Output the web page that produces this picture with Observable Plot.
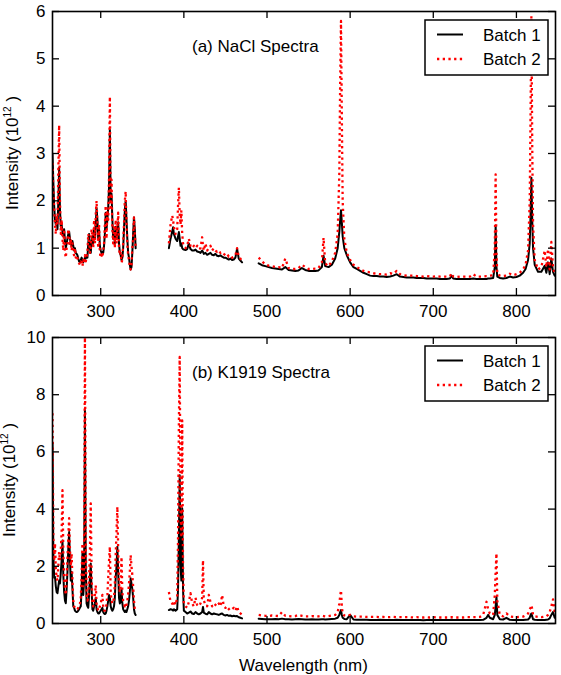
<!DOCTYPE html>
<html>
<head>
<meta charset="utf-8">
<script src="https://cdn.jsdelivr.net/npm/d3@7"></script>
<script src="https://cdn.jsdelivr.net/npm/@observablehq/plot@0.6"></script>
<style>
  body { margin: 0; background: #fff; }
  #fig { position: relative; width: 561px; height: 675px; overflow: hidden; background: #fff; }
  #fig > svg { position: absolute; left: 0; }
</style>
</head>
<body>
<div id="fig"></div>
<script>
// Wavelength grid (nm); 360 and 480 are empty slots that break the line across the detector gaps.
const wavelength = [
  242,243,244,245,246,247,248,249,250,251,
  252,253,254,255,256,257,258,259,260,261,
  262,263,264,265,266,267,268,269,270,271,
  272,273,274,275,276,277,278,279,280,281,
  282,283,284,285,286,287,288,289,290,291,
  292,293,294,295,296,297,298,299,300,301,
  302,303,304,305,306,307,308,309,310,311,
  312,313,314,315,316,317,318,319,320,321,
  322,323,324,325,326,327,328,329,330,331,
  332,333,334,335,336,337,338,339,340,341,
  342,
  360,
  382,384,386,387,388,390,392,393,394,395,
  396,397,398,399,400,402,404,406,408,410,
  412,414,416,418,420,422,423,424,426,428,
  430,432,434,436,438,440,442,444,446,448,
  450,452,454,456,458,460,462,464,466,468,
  470,
  480,
  490,494,498,502,506,510,514,518,522,526,
  530,534,538,542,546,550,554,558,562,566,
  568,570,574,578,582,585,587,588,589,590,
  591,593,596,600,604,608,612,616,620,624,
  628,632,636,640,644,648,652,656,660,664,
  668,672,676,680,684,688,692,696,700,704,
  708,712,716,720,722,724,728,732,736,740,
  744,748,752,756,760,764,766,768,772,774,
  775,776,777,780,784,788,792,796,800,804,
  808,811,814,816,817,818,819,820,822,826,
  830,834,836,838,840,842,844,846
];

// NaCl spectra, intensity in units of 10^12
const naclBatch1 = [
  3.0,2.4,1.9,1.6,1.5,1.6,1.4,2.0,2.7,1.8,
  1.45,1.5,1.35,1.25,1.4,1.15,1.0,1.1,1.2,1.3,
  1.35,1.2,1.1,1.05,1.15,1.05,0.95,1.0,0.9,0.88,
  0.85,0.78,0.72,0.7,0.75,0.8,0.74,0.7,0.75,0.8,
  0.78,0.85,0.8,1.1,1.3,1.0,0.9,1.15,1.25,1.1,
  1.4,1.2,1.5,1.85,1.6,1.2,1.4,1.05,0.95,0.9,
  0.92,0.9,1.05,1.3,1.75,1.4,1.6,1.85,2.3,3.5,
  2.0,2.15,1.6,1.2,1.35,1.1,1.45,1.2,1.3,1.55,
  1.1,0.9,0.85,0.75,0.8,1.0,1.4,1.8,2.0,1.6,
  1.2,0.9,0.8,0.65,0.55,0.6,0.9,1.3,1.65,1.4,
  1.0,
  null,
  1.0,1.2,1.35,1.44,1.3,1.2,1.15,1.25,1.34,1.2,
  1.05,1.1,1.0,0.98,0.97,0.96,0.98,1.1,0.98,0.95,
  0.95,0.97,0.93,0.92,0.9,0.95,0.92,0.88,0.9,0.86,
  0.88,0.9,0.86,0.85,0.88,0.84,0.83,0.85,0.82,0.8,
  0.8,0.78,0.76,0.78,0.75,0.76,0.8,0.99,0.78,0.74,
  0.7,
  null,
  0.68,0.64,0.62,0.6,0.58,0.57,0.56,0.55,0.6,0.54,
  0.53,0.52,0.53,0.58,0.54,0.52,0.52,0.52,0.53,0.6,
  0.84,0.62,0.6,0.65,0.78,1.0,1.35,1.6,1.8,1.55,
  1.25,1.0,0.85,0.7,0.6,0.56,0.52,0.48,0.45,0.42,
  0.41,0.41,0.4,0.4,0.39,0.4,0.42,0.45,0.4,0.39,
  0.38,0.38,0.38,0.37,0.37,0.37,0.36,0.36,0.36,0.36,
  0.35,0.35,0.35,0.36,0.42,0.36,0.35,0.35,0.35,0.35,
  0.35,0.36,0.35,0.35,0.35,0.35,0.36,0.36,0.37,0.6,
  1.48,0.6,0.4,0.37,0.36,0.37,0.4,0.38,0.39,0.42,
  0.48,0.56,0.75,1.1,1.7,2.49,1.6,1.0,0.65,0.5,
  0.5,0.63,0.48,0.7,0.45,0.78,0.5,0.42
];
const naclBatch2 = [
  2.8,2.2,1.8,1.5,1.3,1.7,1.5,2.6,3.6,2.0,
  1.3,1.6,1.2,0.95,1.4,0.9,0.8,1.0,1.1,1.4,
  1.3,1.05,1.2,0.95,1.1,0.9,0.85,1.0,0.8,0.85,
  0.8,0.7,0.68,0.65,0.72,0.7,0.62,0.75,0.68,0.85,
  0.72,0.8,0.9,1.3,1.2,0.9,1.0,1.4,1.2,1.0,
  1.6,1.1,1.7,2.0,1.5,1.0,1.5,0.9,0.8,0.85,
  0.8,0.95,1.1,1.5,1.9,1.2,1.8,1.6,2.5,4.2,
  1.8,2.45,1.4,1.1,1.5,1.0,1.6,1.1,1.4,1.75,
  1.0,0.85,0.9,0.7,0.75,1.1,1.5,2.0,2.2,1.5,
  1.1,0.85,0.75,0.6,0.55,0.65,1.0,1.2,1.65,1.3,
  1.0,
  null,
  1.1,1.5,1.69,1.6,1.45,1.3,1.4,1.9,2.28,1.7,
  1.5,1.8,1.3,1.1,1.05,1.0,1.05,1.2,1.05,1.0,
  1.05,1.0,1.05,0.98,1.0,1.23,1.05,0.95,1.1,0.95,
  1.0,1.05,0.95,1.0,0.95,0.92,0.95,0.9,0.92,0.88,
  0.85,0.88,0.82,0.84,0.8,0.82,0.85,1.0,0.82,0.78,
  0.72,
  null,
  0.8,0.72,0.66,0.63,0.62,0.6,0.6,0.58,0.78,0.58,
  0.56,0.56,0.58,0.65,0.6,0.56,0.56,0.57,0.58,0.7,
  1.22,0.68,0.62,0.72,0.9,1.3,2.6,4.5,5.8,3.8,
  2.0,1.2,0.9,0.75,0.65,0.6,0.56,0.52,0.5,0.49,
  0.47,0.46,0.45,0.45,0.44,0.47,0.46,0.52,0.45,0.43,
  0.42,0.42,0.42,0.41,0.41,0.4,0.41,0.4,0.4,0.41,
  0.4,0.4,0.4,0.41,0.47,0.4,0.39,0.4,0.4,0.4,
  0.4,0.45,0.4,0.4,0.4,0.41,0.41,0.42,0.43,1.0,
  2.56,0.9,0.45,0.42,0.41,0.42,0.46,0.43,0.45,0.48,
  0.55,0.65,0.95,2.0,3.8,5.9,3.2,1.5,0.75,0.55,
  0.6,0.95,0.6,0.98,0.55,1.13,0.6,0.45
];

// K1919 spectra
const k1919Batch1 = [
  6.3,2.5,1.6,1.63,1.3,1.1,1.06,1.3,1.5,1.4,
  1.8,2.2,2.9,1.7,1.1,0.8,0.71,1.2,1.8,2.6,
  3.2,2.2,1.5,1.8,1.2,0.6,0.55,0.45,0.42,0.4,
  0.41,0.45,0.5,0.55,0.6,1.2,2.45,1.0,1.5,7.46,
  2.0,0.7,0.6,0.55,1.0,1.6,2.1,1.2,0.5,0.45,
  0.6,0.7,0.9,0.5,0.4,0.35,0.35,0.4,0.45,0.5,
  0.55,0.4,0.35,0.33,0.35,0.45,0.6,0.8,1.0,0.93,
  0.6,0.5,0.45,0.5,0.6,0.9,1.6,2.0,2.68,1.8,
  0.9,0.7,0.8,1.2,0.7,0.5,0.45,0.4,0.45,0.4,
  0.5,0.6,0.8,1.1,1.58,1.4,1.2,0.9,0.5,0.35,
  0.3,
  null,
  0.47,0.5,0.48,0.45,0.5,0.45,0.5,1.2,3.0,5.18,
  2.0,1.5,4.03,1.2,0.45,0.4,0.35,0.38,0.42,0.35,
  0.33,0.4,0.35,0.32,0.35,0.4,0.58,0.38,0.34,0.32,
  0.4,0.35,0.32,0.35,0.33,0.32,0.3,0.33,0.35,0.3,
  0.28,0.3,0.27,0.28,0.25,0.27,0.25,0.26,0.22,0.2,
  0.18,
  null,
  0.17,0.16,0.15,0.15,0.15,0.16,0.15,0.17,0.15,0.15,
  0.14,0.15,0.16,0.15,0.14,0.14,0.15,0.14,0.14,0.15,
  0.15,0.14,0.15,0.16,0.17,0.2,0.3,0.4,0.47,0.3,
  0.2,0.16,0.15,0.3,0.14,0.13,0.13,0.13,0.13,0.12,
  0.12,0.12,0.13,0.12,0.12,0.12,0.12,0.13,0.12,0.12,
  0.12,0.12,0.12,0.12,0.12,0.11,0.12,0.12,0.12,0.12,
  0.12,0.12,0.12,0.12,0.13,0.12,0.12,0.12,0.12,0.12,
  0.12,0.12,0.12,0.12,0.13,0.2,0.3,0.2,0.15,0.3,
  0.6,0.93,0.3,0.15,0.14,0.2,0.13,0.12,0.12,0.12,
  0.12,0.13,0.14,0.2,0.3,0.35,0.25,0.15,0.13,0.12,
  0.12,0.12,0.13,0.14,0.18,0.3,0.4,0.2
];
const k1919Batch2 = [
  7.35,3.0,2.2,2.8,1.9,1.6,1.5,2.0,2.5,2.2,
  2.6,3.2,4.66,2.5,1.6,1.2,1.0,1.6,2.3,3.0,
  3.68,2.6,2.0,2.45,1.5,0.8,0.6,0.55,0.5,0.5,
  0.5,0.55,0.6,0.7,0.9,1.6,2.8,1.3,2.0,10.0,
  2.8,1.0,0.8,0.9,1.6,2.5,4.2,1.8,0.7,0.6,
  0.9,1.0,1.34,0.7,0.55,0.45,0.5,0.6,0.7,0.85,
  1.0,0.6,0.45,0.45,0.5,0.7,1.0,1.6,2.2,2.68,
  1.1,0.8,0.7,0.75,0.9,1.4,2.4,3.2,4.08,2.6,
  1.4,1.1,1.3,2.33,1.1,0.8,0.7,0.6,0.7,0.65,
  0.8,1.0,1.4,1.8,2.39,2.0,1.7,1.3,0.8,0.5,
  0.4,
  null,
  1.1,0.75,0.7,0.6,0.8,0.65,0.9,3.0,7.0,9.32,
  4.0,3.0,7.1,2.0,0.7,0.6,0.55,0.75,1.06,0.7,
  0.6,0.9,0.65,0.6,0.7,0.9,2.21,0.8,0.65,0.6,
  1.0,0.75,0.6,0.7,0.65,0.6,0.7,0.6,1.0,0.6,
  0.55,0.6,0.5,0.55,0.5,0.55,0.45,0.6,0.4,0.35,
  0.3,
  null,
  0.3,0.28,0.27,0.26,0.28,0.27,0.26,0.4,0.27,0.26,
  0.25,0.26,0.3,0.27,0.25,0.25,0.26,0.25,0.25,0.27,
  0.26,0.25,0.26,0.28,0.3,0.4,0.7,0.95,1.16,0.6,
  0.35,0.28,0.26,0.3,0.25,0.24,0.24,0.24,0.23,0.23,
  0.23,0.23,0.22,0.23,0.22,0.22,0.23,0.22,0.22,0.22,
  0.22,0.22,0.21,0.22,0.21,0.21,0.22,0.21,0.22,0.21,
  0.21,0.21,0.21,0.21,0.22,0.21,0.21,0.21,0.21,0.22,
  0.22,0.22,0.22,0.23,0.3,0.76,0.5,0.35,0.3,1.0,
  1.8,2.45,0.8,0.3,0.25,0.35,0.25,0.23,0.22,0.23,
  0.24,0.28,0.35,0.5,0.55,0.64,0.5,0.3,0.25,0.23,
  0.22,0.24,0.25,0.3,0.4,0.6,0.84,0.4
];

const xTicks = [300, 400, 500, 600, 700, 800];
const naclTicks = [0, 1, 2, 3, 4, 5, 6];
const k1919Ticks = [0, 2, 4, 6, 8, 10];
const seriesNames = ["Batch 1", "Batch 2"];
const panelTitles = ["(a) NaCl Spectra", "(b) K1919 Spectra"];
const xLabel = "Wavelength (nm)";
const yLabel = ["Intensity (10", "12", " )"];

const FONT = '"Liberation Sans", Arial, Helvetica, sans-serif';
const W = 561, ML = 52, MR = 6, TICK = 7;
const batch1Style = {stroke: "#000", strokeWidth: 2};
const batch2Style = {stroke: "#ff0000", strokeWidth: 2.3, strokeDasharray: "2.3,3.4", strokeLinecap: "butt"};

const panels = [
  {b1: naclBatch1, b2: naclBatch2, yDomain: [0, 6], yTicks: naclTicks, top: 0, height: 322, marginTop: 11, marginBottom: 27, labelX: 17.5},
  {b1: k1919Batch1, b2: k1919Batch2, yDomain: [0, 10], yTicks: k1919Ticks, top: 322, height: 353, marginTop: 15, marginBottom: 52, labelX: 15}
];

const fig = document.getElementById("fig");

panels.forEach((p) => {
  const rows = wavelength.map((w, i) => ({w, b1: p.b1[i], b2: p.b2[i]}));
  const plotH = p.height - p.marginTop - p.marginBottom;
  const plotW = W - ML - MR;
  const chart = Plot.plot({
    width: W,
    height: p.height,
    marginTop: p.marginTop,
    marginBottom: p.marginBottom,
    marginLeft: ML,
    marginRight: MR,
    style: {fontFamily: FONT, fontSize: "17px", color: "#000", background: "transparent"},
    x: {domain: [242, 847]},
    y: {domain: p.yDomain},
    marks: [
      Plot.line(rows, {x: "w", y: "b1", ...batch1Style, clip: true}),
      Plot.line(rows, {x: "w", y: "b2", ...batch2Style, clip: true}),
      // inward ticks on all four sides
      Plot.tickX(xTicks, {x: (d) => d, insetTop: plotH - TICK, strokeWidth: 1.3}),
      Plot.tickX(xTicks, {x: (d) => d, insetBottom: plotH - TICK, strokeWidth: 1.3}),
      Plot.tickY(p.yTicks, {y: (d) => d, insetRight: plotW - TICK, strokeWidth: 1.3}),
      Plot.tickY(p.yTicks, {y: (d) => d, insetLeft: plotW - TICK, strokeWidth: 1.3}),
      Plot.axisX(xTicks, {tickSize: 0, tickPadding: 9, label: null}),
      Plot.axisY(p.yTicks, {tickSize: 0, tickPadding: 7, label: null}),
      Plot.frame({stroke: "#000", strokeWidth: 1.6})
    ]
  });
  chart.style.top = p.top + "px";
  fig.appendChild(chart);
});

// Text layer: panel titles, legends and axis labels
const overlay = d3.select(fig).append("svg")
  .attr("width", W).attr("height", 675)
  .style("top", "0px")
  .style("font-family", FONT)
  .style("font-size", "17px");

const legendStyles = [batch1Style, batch2Style];

panels.forEach((p, i) => {
  const frameTop = p.top + p.marginTop;
  const plotH = p.height - p.marginTop - p.marginBottom;

  overlay.append("text")
    .attr("x", 192).attr("y", frameTop + 41)
    .text(panelTitles[i]);

  const lg = overlay.append("g").attr("transform", `translate(425,${frameTop + 9})`);
  lg.append("rect")
    .attr("width", 123).attr("height", 55)
    .attr("fill", "#fff").attr("stroke", "#000").attr("stroke-width", 1.5);
  seriesNames.forEach((name, j) => {
    const y = 14.5 + j * 24.5;
    const s = legendStyles[j];
    lg.append("line")
      .attr("x1", 12).attr("x2", 38).attr("y1", y).attr("y2", y)
      .attr("stroke", s.stroke).attr("stroke-width", s.strokeWidth)
      .attr("stroke-dasharray", s.strokeDasharray || null);
    lg.append("text")
      .attr("x", 58).attr("y", y).attr("dy", "0.36em")
      .text(name);
  });

  const yl = overlay.append("text")
    .attr("transform", `translate(${p.labelX},${frameTop + plotH / 2}) rotate(-90)`)
    .attr("text-anchor", "middle");
  yl.append("tspan").text(yLabel[0]);
  yl.append("tspan").attr("font-size", "10px").attr("dy", "-7").text(yLabel[1]);
  yl.append("tspan").attr("dy", "7").text(yLabel[2]);
});

overlay.append("text")
  .attr("x", ML + (W - ML - MR) / 2).attr("y", 671)
  .attr("text-anchor", "middle")
  .text(xLabel);
</script>
</body>
</html>
